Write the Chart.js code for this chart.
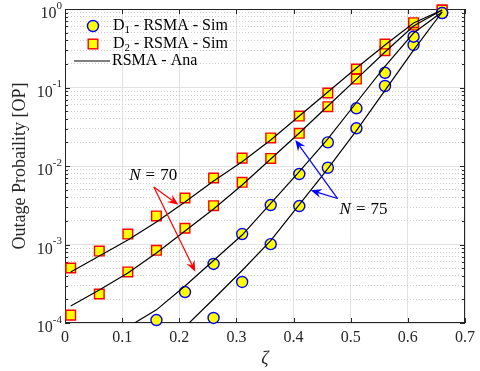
<!DOCTYPE html>
<html>
<head>
<meta charset="utf-8">
<script src="https://cdn.jsdelivr.net/npm/chart.js@4"></script>
<style>
html, body { margin: 0; padding: 0; background: #fff; }
#wrap { width: 480px; height: 371px; position: relative; }
</style>
</head>
<body>
<div id="wrap"><canvas id="opChart"></canvas></div>
<script>
// ζ grid used by the simulation / analysis
const zeta = [0.01, 0.06, 0.11, 0.16, 0.21, 0.26, 0.31, 0.36, 0.41, 0.46, 0.51, 0.56, 0.61, 0.66];

// simulation points (null = below 1e-4, not shown)
const d1N70Sim = [null, null, null, 1.09e-4, 2.48e-4, 5.65e-4, 1.36e-3, 3.18e-3, 7.91e-3, 2.0e-2, 5.43e-2, 0.154, 0.444, 0.889];
const d1N75Sim = [null, null, null, null, null, 1.16e-4, 3.33e-4, 1.01e-3, 3.09e-3, 9.5e-3, 3.02e-2, 0.1045, 0.348, 0.889];
const d2N70Sim = [5.02e-4, 8.26e-4, 1.36e-3, 2.31e-3, 3.91e-3, 7.03e-3, 1.26e-2, 2.28e-2, 4.33e-2, 8.51e-2, 0.172, 0.358, 0.669, 0.971];
const d2N75Sim = [1.26e-4, 2.34e-4, 4.47e-4, 8.44e-4, 1.61e-3, 3.12e-3, 6.2e-3, 1.25e-2, 2.61e-2, 5.69e-2, 0.128, 0.294, 0.625, 0.971];

// analytical curves
const d1N70Ana = [null, null, 8.9e-5, 1.47e-4, 2.96e-4, 6.25e-4, 1.32e-3, 3.34e-3, 8.49e-3, 2.21e-2, 6.44e-2, 0.186, 0.494, 0.916];
const d1N75Ana = [null, null, null, 4.27e-5, 8.9e-5, 2.02e-4, 4.67e-4, 1.12e-3, 3.21e-3, 9.24e-3, 2.82e-2, 9.19e-2, 0.300, 0.916];
const d2N70Ana = [4.47e-4, 7.14e-4, 1.14e-3, 1.94e-3, 3.48e-3, 6.44e-3, 1.13e-2, 2.14e-2, 4.33e-2, 8.77e-2, 0.177, 0.348, 0.663, 0.971];
const d2N75Ana = [1.65e-4, 2.63e-4, 4.34e-4, 7.8e-4, 1.49e-3, 2.83e-3, 5.73e-3, 1.23e-2, 2.63e-2, 5.81e-2, 0.128, 0.283, 0.607, 0.971];

// tick labels
const xTickLabels = ['0', '0.1', '0.2', '0.3', '0.4', '0.5', '0.6', '0.7'];
const yTickExps = [0, -1, -2, -3, -4];

// annotation anchors, in data units (ζ, OP)
const n70Text = { x: 0.1124, y: 7.5e-3 };
const n70From = { x: 0.1555, y: 5.4e-3 };
const n70To = [{ x: 0.1985, y: 3.2e-3 }, { x: 0.228, y: 4.5e-4 }];
const n75Text = { x: 0.4805, y: 2.8e-3 };
const n75From = { x: 0.477, y: 3.85e-3 };
const n75To = [{ x: 0.403, y: 2.14e-2 }, { x: 0.430, y: 4.9e-3 }];

const FONT = "'Liberation Serif', 'Times New Roman', serif";
const AXIS = '#262626';

const toXY = ys => zeta.map((x, i) => ({ x: x, y: ys[i] })).filter(p => p.y !== null);
const isDecade = v => Math.abs(Math.log10(v) - Math.round(Math.log10(v))) < 1e-6;

function anaSet(ys) {
    return {
        data: toXY(ys),
        borderColor: '#000',
        borderWidth: 1.2,
        pointRadius: 0,
        tension: 0,
        fill: false
    };
}
function circleSet(ys) {
    return {
        data: toXY(ys),
        showLine: false,
        pointStyle: 'circle',
        pointRadius: 5.5,
        pointBackgroundColor: '#ffff00',
        pointBorderColor: '#0000ff',
        pointBorderWidth: 1.4,
        clip: false
    };
}
function squareSet(ys) {
    return {
        data: toXY(ys),
        showLine: false,
        pointStyle: 'rect',
        pointRadius: 6.8,
        pointBackgroundColor: '#ffff00',
        pointBorderColor: '#ff0000',
        pointBorderWidth: 1.4,
        clip: false
    };
}

function drawArrow(ctx, x0, y0, x1, y1, color) {
    const ang = Math.atan2(y1 - y0, x1 - x0);
    const L = 11, W = 4.5;
    const bx = x1 - L * Math.cos(ang), by = y1 - L * Math.sin(ang);
    const nx = x1 - 0.65 * L * Math.cos(ang), ny = y1 - 0.65 * L * Math.sin(ang);
    ctx.strokeStyle = color;
    ctx.fillStyle = color;
    ctx.lineWidth = 1.2;
    ctx.beginPath();
    ctx.moveTo(x0, y0);
    ctx.lineTo(nx, ny);
    ctx.stroke();
    ctx.beginPath();
    ctx.moveTo(x1, y1);
    ctx.lineTo(bx - W * Math.sin(ang), by + W * Math.cos(ang));
    ctx.lineTo(nx, ny);
    ctx.lineTo(bx + W * Math.sin(ang), by - W * Math.cos(ang));
    ctx.closePath();
    ctx.fill();
}

// "N = 70" with math-style spacing
function drawNLabel(ctx, x, y, value) {
    ctx.textBaseline = 'middle';
    ctx.textAlign = 'left';
    ctx.fillStyle = '#000';
    ctx.font = 'italic 17px ' + FONT;
    ctx.fillText('N', x, y);
    x += ctx.measureText('N').width + 5;
    ctx.font = '17px ' + FONT;
    ctx.fillText('=', x, y);
    x += ctx.measureText('=').width + 5;
    ctx.fillText(value, x, y);
}

const matlabAxes = {
    id: 'matlabAxes',
    beforeDatasetsDraw(chart) {
        const { ctx, chartArea: a, scales: { x, y } } = chart;
        ctx.save();
        ctx.strokeStyle = AXIS;
        ctx.lineWidth = 1;
        ctx.strokeRect(a.left + 0.5, a.top + 0.5, a.right - a.left - 1, a.bottom - a.top - 1);
        ctx.beginPath();
        y.ticks.forEach(t => {
            const py = Math.round(y.getPixelForValue(t.value)) + 0.5;
            const len = isDecade(t.value) ? 5 : 3;
            ctx.moveTo(a.left, py); ctx.lineTo(a.left + len, py);
            ctx.moveTo(a.right, py); ctx.lineTo(a.right - len, py);
        });
        x.ticks.forEach(t => {
            const px = Math.round(x.getPixelForValue(t.value)) + 0.5;
            ctx.moveTo(px, a.bottom); ctx.lineTo(px, a.bottom - 5);
            ctx.moveTo(px, a.top); ctx.lineTo(px, a.top + 5);
        });
        ctx.stroke();

        // y tick labels as 10^e
        ctx.fillStyle = AXIS;
        ctx.textBaseline = 'middle';
        ctx.textAlign = 'left';
        yTickExps.forEach(e => {
            const py = y.getPixelForValue(Math.pow(10, e));
            const ex = String(e);
            ctx.font = '11px ' + FONT;
            const wExp = ctx.measureText(ex).width;
            ctx.font = '16px ' + FONT;
            const wBase = ctx.measureText('10').width;
            const right = a.left - 3;
            ctx.fillText('10', right - wExp - wBase, py + 5);
            ctx.font = '11px ' + FONT;
            ctx.fillText(ex, right - wExp, py - 3);
        });
        ctx.restore();
    },
    afterDatasetsDraw(chart) {
        const { ctx, chartArea: a, scales: { x, y } } = chart;
        ctx.save();

        // legend
        const lx = a.left + 28, tx = a.left + 48;
        const rows = [a.top + 17, a.top + 35, a.top + 52];
        ctx.lineWidth = 1.4;
        ctx.fillStyle = '#ffff00';
        ctx.strokeStyle = '#0000ff';
        ctx.beginPath();
        ctx.arc(lx, rows[0], 5.5, 0, Math.PI * 2);
        ctx.fill(); ctx.stroke();
        ctx.strokeStyle = '#ff0000';
        ctx.fillRect(lx - 4.8, rows[1] - 4.8, 9.6, 9.6);
        ctx.strokeRect(lx - 4.8, rows[1] - 4.8, 9.6, 9.6);
        ctx.strokeStyle = '#000';
        ctx.lineWidth = 1.2;
        ctx.beginPath();
        ctx.moveTo(a.left + 9, rows[2]); ctx.lineTo(a.left + 45, rows[2]);
        ctx.stroke();

        ctx.fillStyle = '#000';
        ctx.textBaseline = 'middle';
        ctx.textAlign = 'left';
        [['1', rows[0]], ['2', rows[1]]].forEach(([sub, ry]) => {
            let cx = tx;
            ctx.font = '16px ' + FONT;
            ctx.fillText('D', cx, ry);
            cx += ctx.measureText('D').width;
            ctx.font = '11px ' + FONT;
            ctx.fillText(sub, cx, ry + 4);
            cx += ctx.measureText(sub).width;
            ctx.font = '16px ' + FONT;
            ctx.fillText(' - RSMA - Sim', cx, ry);
        });
        ctx.font = '16px ' + FONT;
        ctx.fillText('RSMA - Ana', tx - 1, rows[2]);

        // annotations
        const px = p => [x.getPixelForValue(p.x), y.getPixelForValue(p.y)];
        const [r0x, r0y] = px(n70From);
        n70To.forEach(p => { const [ex, ey] = px(p); drawArrow(ctx, r0x, r0y, ex, ey, '#ff0000'); });
        const [b0x, b0y] = px(n75From);
        n75To.forEach(p => { const [ex, ey] = px(p); drawArrow(ctx, b0x, b0y, ex, ey, '#0000ff'); });
        const [t1x, t1y] = px(n70Text);
        drawNLabel(ctx, t1x, t1y, '70');
        const [t2x, t2y] = px(n75Text);
        drawNLabel(ctx, t2x, t2y, '75');
        ctx.restore();
    }
};

const ctx = document.getElementById('opChart').getContext('2d');
const opChart = new Chart(ctx, {
    type: 'line',
    data: {
        datasets: [
            anaSet(d2N70Ana), anaSet(d2N75Ana), anaSet(d1N70Ana), anaSet(d1N75Ana),
            circleSet(d1N70Sim), circleSet(d1N75Sim),
            squareSet(d2N70Sim), squareSet(d2N75Sim)
        ]
    },
    options: {
        responsive: true,
        maintainAspectRatio: false,
        animation: false,
        layout: { padding: { top: 9, right: 10, left: 0, bottom: 0 } },
        plugins: {
            legend: { display: false },
            tooltip: { enabled: false }
        },
        scales: {
            x: {
                type: 'linear',
                min: 0,
                max: 0.7,
                afterFit: s => { s.height = 48; },
                ticks: {
                    stepSize: 0.1,
                    padding: 5,
                    color: AXIS,
                    font: { family: FONT, size: 16 },
                    callback: (v, i) => xTickLabels[i]
                },
                grid: { color: '#e2e2e2', lineWidth: 1, drawTicks: false },
                border: { display: false },
                title: {
                    display: true,
                    text: 'ζ',
                    color: AXIS,
                    font: { family: FONT, size: 18, style: 'italic' },
                    padding: { top: 0, bottom: 1 }
                }
            },
            y: {
                type: 'logarithmic',
                min: 1e-4,
                max: 1,
                afterFit: s => { s.width = 65; },
                afterBuildTicks: s => {
                    const t = [];
                    for (let e = -4; e < 0; e++) {
                        for (let k = 1; k < 10; k++) t.push({ value: k * Math.pow(10, e) });
                    }
                    t.push({ value: 1 });
                    s.ticks = t;
                },
                ticks: { display: false, autoSkip: false },
                grid: {
                    drawTicks: false,
                    lineWidth: 1,
                    color: c => (c.tick && isDecade(c.tick.value)) ? '#e2e2e2' : '#cdcdcd'
                },
                border: {
                    display: false,
                    dash: c => (c.tick && !isDecade(c.tick.value)) ? [1, 2] : []
                },
                title: {
                    display: true,
                    text: 'Outage Probaility [OP]',
                    color: AXIS,
                    font: { family: FONT, size: 18 },
                    padding: { top: 9, bottom: 0 }
                }
            }
        }
    },
    plugins: [matlabAxes]
});
</script>
</body>
</html>
